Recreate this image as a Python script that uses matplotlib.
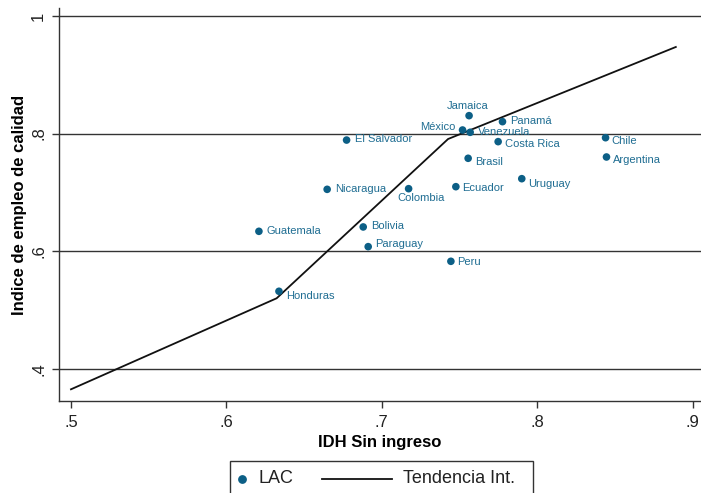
import matplotlib
matplotlib.use("Agg")
import matplotlib.pyplot as plt
from matplotlib.lines import Line2D
from matplotlib.patches import Rectangle

plt.rcParams['font.family'] = ['Liberation Sans', 'DejaVu Sans']

# Country data: IDH without income vs. quality employment index
countries = ["Jamaica", "Panamá", "México", "Venezuela", "Costa Rica", "Chile",
             "Argentina", "Brasil", "El Salvador", "Uruguay", "Ecuador", "Colombia",
             "Bolivia", "Paraguay", "Peru", "Nicaragua", "Guatemala", "Honduras"]
idh = [0.7561, 0.7776, 0.7519, 0.7568, 0.7748, 0.8439,
       0.8445, 0.7555, 0.6773, 0.7900, 0.7476, 0.7172,
       0.6880, 0.6912, 0.7444, 0.6648, 0.6209, 0.6338]
indice = [0.8305, 0.8203, 0.8061, 0.8022, 0.7863, 0.7930,
          0.7602, 0.7580, 0.7890, 0.7233, 0.7097, 0.7063,
          0.6412, 0.6077, 0.5828, 0.7052, 0.6338, 0.5318]

# International trend (piecewise linear)
trend_x = [0.5, 0.6323, 0.7426, 0.8891]
trend_y = [0.3651, 0.5199, 0.7908, 0.9473]

xticks = [0.5, 0.6, 0.7, 0.8, 0.9]
xtick_labels = [".5", ".6", ".7", ".8", ".9"]
yticks = [0.4, 0.6, 0.8, 1.0]
ytick_labels = [".4", ".6", ".8", "1"]

# Label placement (pixel offsets and alignment per country)
label_pos = {
    "Jamaica": (-1.5, 10, "center"),
    "Panamá": (8, 0.7, "left"),
    "México": (-6.7, 2.7, "right"),
    "Venezuela": (8, 0, "left"),
    "Costa Rica": (6.7, -2, "left"),
    "Chile": (6, -3.3, "left"),
    "Argentina": (6.7, -3, "left"),
    "Brasil": (6.7, -3.4, "left"),
    "El Salvador": (8.6, 0.7, "left"),
    "Uruguay": (6.3, -5.6, "left"),
    "Ecuador": (6.7, -1.3, "left"),
    "Colombia": (12, -9, "center"),
    "Bolivia": (8.4, 1, "left"),
    "Paraguay": (6.7, 2.4, "left"),
    "Peru": (6.7, -0.7, "left"),
    "Nicaragua": (7.7, 0, "left"),
    "Guatemala": (7.7, 0, "left"),
    "Honduras": (7, -5, "left"),
}

W, H = 701, 493
dot_color = "#0c5f86"
label_color = "#1f6d92"
axis_gray = "#333333"

fig = plt.figure(figsize=(W / 100, H / 100), dpi=100)
ax = fig.add_axes([58.7 / W, 1 - 401 / H, 1 - 58.7 / W, (401 - 8) / H])

ax.set_xlim(0.4921, 0.9053)
ax.set_ylim(0.3452, 1.0136)

for yv in yticks:
    ax.axhline(yv, color=axis_gray, lw=1.0, zorder=1)

ax.plot(trend_x, trend_y, color="#111111", lw=1.3, zorder=2)
ax.scatter(idh, indice, s=30, color=dot_color, edgecolors="none", zorder=3)

for name, x, y in zip(countries, idh, indice):
    dx, dy, ha = label_pos[name]
    ax.annotate(name, (x, y), xytext=(dx, dy), textcoords="offset pixels",
                ha=ha, va="center", fontsize=8, color=label_color, zorder=4)

for side in ("top", "right"):
    ax.spines[side].set_visible(False)
for side in ("left", "bottom"):
    ax.spines[side].set_color(axis_gray)
    ax.spines[side].set_linewidth(1.0)

ax.set_xticks(xticks)
ax.set_xticklabels(xtick_labels)
ax.set_yticks(yticks)
ax.set_yticklabels(ytick_labels, rotation=90, va="center")
ax.tick_params(axis="both", colors=axis_gray, labelcolor="#222222",
               labelsize=12, length=5, width=1.0)
ax.tick_params(axis="x", pad=5)
ax.tick_params(axis="y", pad=4)

ax.set_xlabel("IDH Sin ingreso", fontsize=12, fontweight="bold", labelpad=4)
ax.set_ylabel("Indice de empleo de calidad", fontsize=12, fontweight="bold",
              labelpad=3)

# Legend box drawn in figure pixel coordinates
def fx(px):
    return px / W

def fy(py):
    return 1 - py / H

fig.patches.append(Rectangle((fx(230), fy(500)), fx(532.7) - fx(230),
                             fy(461) - fy(500), transform=fig.transFigure,
                             fill=False, edgecolor=axis_gray, lw=1.0))
fig.lines.append(Line2D([fx(242)], [fy(478.5)], marker="o", markersize=5.3,
                        color=dot_color, linestyle="none",
                        transform=fig.transFigure))
fig.text(fx(258.3), fy(478.5), "LAC", fontsize=13, color="#222222",
         ha="left", va="center")
fig.lines.append(Line2D([fx(321.7), fx(391.7)], [fy(479), fy(479)],
                        color="#111111", lw=1.3, transform=fig.transFigure))
fig.text(fx(403.3), fy(478.5), "Tendencia Int.", fontsize=13, color="#222222",
         ha="left", va="center")

fig.savefig("out.png", dpi=100)
